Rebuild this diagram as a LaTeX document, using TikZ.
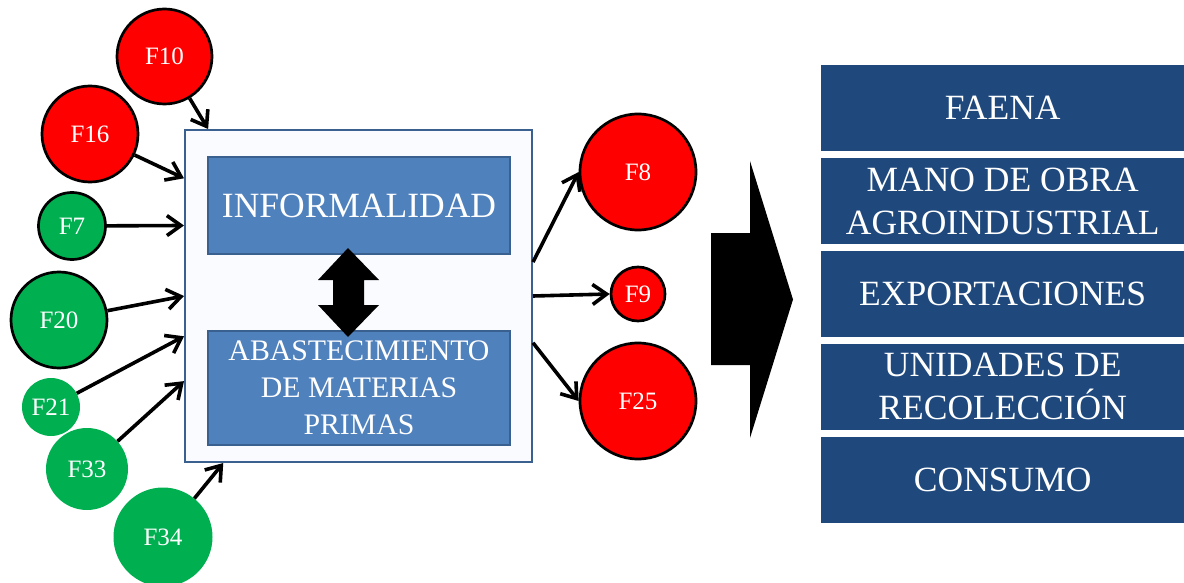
\documentclass[tikz,border=0pt]{standalone}
\usepackage{fontspec}
\setmainfont{Liberation Serif}
\usetikzlibrary{arrows.meta,positioning}
\definecolor{rojo}{HTML}{FF0000}
\definecolor{verde}{HTML}{00B050}
\definecolor{azul}{HTML}{4F81BD}
\definecolor{azulborde}{HTML}{3A6090}
\definecolor{azuloscuro}{HTML}{1F497D}
\definecolor{fondo}{HTML}{F9FBFE}
\tikzset{
  fac/.style={circle, inner sep=0pt, text=white, font=\fontsize{25}{28}\selectfont},
  roja/.style={fac, fill=rojo, draw=black, line width=2.7pt},
  verdeb/.style={fac, fill=verde, draw=black, line width=2.7pt},
  verdes/.style={fac, fill=verde},
  caja/.style={draw=azulborde, fill=azul, line width=2pt, text=white,
    minimum width=302pt, align=center},
  efecto/.style={fill=azuloscuro, text=white, minimum width=363pt, minimum height=86pt,
    inner sep=0pt, align=center, font=\fontsize{35.5}{43}\selectfont}
}
\begin{document}
\begin{tikzpicture}[x=1pt,y=-1pt, >={Straight Barb[length=14pt,width=20pt]}]
   \useasboundingbox (0,0) rectangle (1184,583);

   % caja central
   \node (M) [draw=azulborde, fill=fondo, line width=2pt, minimum width=347pt,
     minimum height=332pt] at (358.5,296) {};
   \node (I) [caja, minimum height=97pt, font=\fontsize{35.5}{40}\selectfont]
     at (359,205.5) {INFORMALIDAD};
   \node (P) [caja, minimum height=114pt, font=\fontsize{29.8}{37}\selectfont]
     at (359,388) {ABASTECIMIENTO\\DE MATERIAS\\PRIMAS};
   \fill (348,248) -- (379,280) -- (364,280) -- (364,305) -- (379,305) -- (348,337)
     -- (318,305) -- (333,305) -- (333,280) -- (318,280) -- cycle;

   % factores
   \node (F10) [roja, minimum size=95pt] at (164.5,56.5) {F10};
   \node (F16) [roja, minimum size=96pt] at (90,134) {F16};
   \node (F7)  [verdeb, minimum size=67pt] at (72,226) {F7};
   \node (F20) [verdeb, minimum size=96pt] at (59,320) {F20};
   \node (F21) [verdes, minimum size=58pt] at (51,407) {F21};
   \node (F33) [verdes, minimum size=82pt] at (87,469) {F33};
   \node (F34) [verdes, minimum size=99pt] at (163,537) {F34};
   \node (F8)  [roja, minimum size=116pt] at (638,172) {F8};
   \node (F9)  [roja, minimum size=54pt] at (638,294) {F9};
   \node (F25) [roja, minimum size=116pt] at (638,401) {F25};

   \path[->, line width=3.6pt]
     (F10) edge (M.132)
     (F16) edge (M.146)
     (F7)  edge (M.158)
     (F20) edge (M.180)
     (F21) edge (M.193)
     (F33) edge (M.206)
     (F34) edge (M.231)
     (M.11)  edge (F8.west)
     (M.0)   edge (F9.west)
     (M.345) edge (F25.west);

   % flecha grande
   \fill (711,233) -- (750,233) -- (750,161) -- (793,299.5) -- (750,438)
     -- (750,365) -- (711,365) -- cycle;

   % efectos
   \node (FA) [efecto, anchor=north west] at (821,65) {FAENA};
   \node (MO) [efecto, below=6.5pt of FA] {MANO DE OBRA\\AGROINDUSTRIAL};
   \node (EX) [efecto, below=6.5pt of MO] {EXPORTACIONES};
   \node (UR) [efecto, below=6.5pt of EX] {UNIDADES DE\\RECOLECCIÓN};
   \node (CO) [efecto, below=6.5pt of UR] {CONSUMO};
\end{tikzpicture}
\end{document}
